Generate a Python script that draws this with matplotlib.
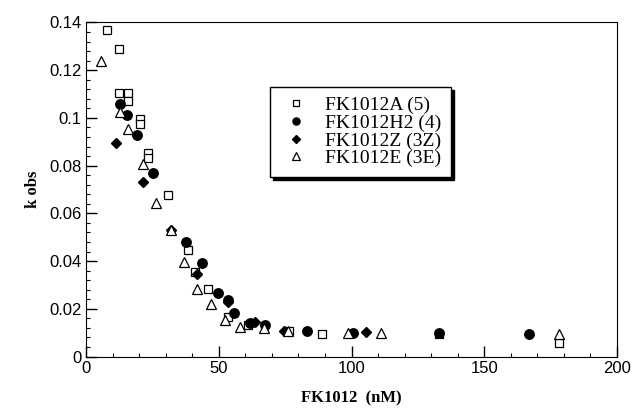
"""k obs vs FK1012 concentration scatter"""
import matplotlib
matplotlib.use('Agg')
import matplotlib.pyplot as plt
from matplotlib.ticker import MultipleLocator

# FK1012A (5)
a_x = [7.9, 12.4, 12.5, 15.6, 15.6, 20.3, 20.3, 23.2, 23.2, 30.9, 38.5, 41.2, 46.0,
       53.5, 61.0, 76.4, 89.0, 133.0, 178.0]
a_k = [0.137, 0.129, 0.1105, 0.1105, 0.107, 0.0995, 0.0975, 0.0855, 0.083, 0.0675,
       0.0446, 0.0356, 0.0282, 0.0167, 0.0132, 0.0109, 0.0096, 0.0096, 0.0058]

# FK1012H2 (4)
h_x = [12.8, 15.3, 19.1, 25.3, 37.5, 43.5, 49.7, 53.5, 55.8, 61.7, 67.3, 83.3,
       100.5, 133.0, 167.0]
h_k = [0.1058, 0.1013, 0.0929, 0.0769, 0.0478, 0.0394, 0.0268, 0.0237, 0.0184,
       0.0142, 0.0132, 0.0109, 0.0098, 0.0100, 0.0094]

# FK1012Z (3Z)
z_x = [11.2, 21.5, 32.0, 41.9, 53.5, 63.5, 74.5, 105.3]
z_k = [0.0894, 0.0731, 0.0531, 0.0345, 0.0230, 0.0146, 0.0109, 0.0102]

# FK1012E (3E)
e_x = [5.6, 12.8, 15.9, 21.3, 26.3, 32.0, 36.8, 41.9, 47.2, 52.3, 57.9, 67.0,
       76.1, 98.6, 111.2, 178.0]
e_k = [0.124, 0.1023, 0.0954, 0.0806, 0.0643, 0.0530, 0.0398, 0.0282, 0.0219,
       0.0153, 0.0125, 0.0119, 0.0109, 0.0098, 0.0098, 0.0094]

fig = plt.figure(figsize=(6.38, 4.16), dpi=100)
ax = fig.add_axes([0.135, 0.143, 0.832, 0.803])

ax.plot(a_x, a_k, 's', ms=6, mfc='white', mec='black', mew=0.9, label='FK1012A (5)')
ax.plot(h_x, h_k, 'o', ms=6.8, mfc='black', mec='black', label='FK1012H2 (4)')
ax.plot(z_x, z_k, 'D', ms=5.2, mfc='black', mec='black', label='FK1012Z (3Z)')
ax.plot(e_x, e_k, '^', ms=6.8, mfc='white', mec='black', mew=0.9, label='FK1012E (3E)')

ax.set_xlim(0, 200)
ax.set_ylim(0, 0.14)
ax.xaxis.set_major_locator(MultipleLocator(50))
ax.xaxis.set_minor_locator(MultipleLocator(10))
ax.yaxis.set_major_locator(MultipleLocator(0.02))
ax.yaxis.set_minor_locator(MultipleLocator(0.004))
ax.tick_params(which='both', direction='in', top=False, right=False)
ax.tick_params(which='major', length=8, width=1)
ax.tick_params(which='minor', length=3, width=0.8)
ax.set_yticks([0, 0.02, 0.04, 0.06, 0.08, 0.1, 0.12, 0.14])
ax.set_yticklabels(['0', '0.02', '0.04', '0.06', '0.08', '0.1', '0.12', '0.14'])
for lbl in ax.get_xticklabels() + ax.get_yticklabels():
    lbl.set_family('Liberation Sans')
    lbl.set_fontsize(12)

ax.set_xlabel('FK1012  (nM)', family='Liberation Serif', fontweight='bold', fontsize=12, labelpad=10)
ax.set_ylabel('k obs', family='Liberation Serif', fontweight='bold', fontsize=12, labelpad=6)

leg = ax.legend(loc='upper left', bbox_to_anchor=(0.347, 0.807), borderaxespad=0,
                prop={'family': 'Liberation Serif', 'size': 14},
                frameon=True, fancybox=False, shadow={'color': 'black', 'alpha': 1},
                handletextpad=0.7, labelspacing=0.0, borderpad=0.5, handlelength=1.6,
                markerscale=0.75, framealpha=1)
leg.get_frame().set_edgecolor('black')
leg.get_frame().set_linewidth(1)

plt.savefig('out.png', dpi=100)
